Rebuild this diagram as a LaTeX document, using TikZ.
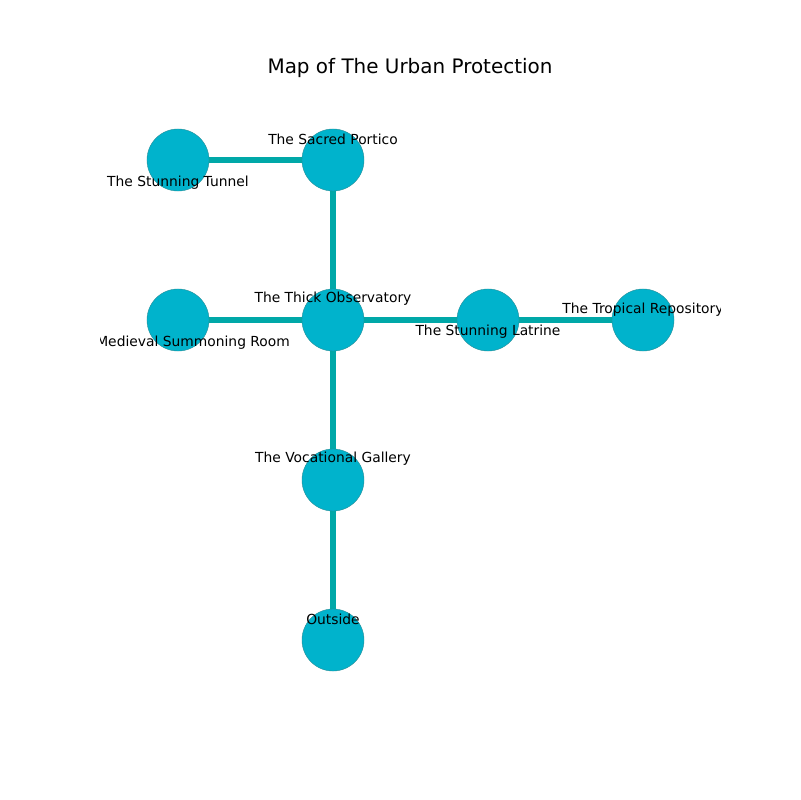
\documentclass[tikz,border=0pt]{standalone}
\usepackage{fontspec}
\setmainfont{DejaVu Sans}
\definecolor{nodefill}{RGB}{0,179,204}
\definecolor{nodeedge}{RGB}{40,140,150}
\definecolor{edgecol}{RGB}{0,168,168}
\begin{document}
\begin{tikzpicture}[x=0.01in,y=-0.01in,
  place/.style={circle,fill=nodefill,draw=nodeedge,line width=0.3pt,minimum size=0.62in,inner sep=0pt},
  link/.style={draw=edgecol,line width=3.8pt},
  lbl/.style={font=\fontsize{10}{12}\selectfont,inner sep=0pt,anchor=center}]
\useasboundingbox (0,0) rectangle (800,800);
\node[font=\fontsize{14.4}{16}\selectfont] (title) at (410,68) {Map of The Urban Protection};
\begin{scope}
\clip (100,96) rectangle (720,712);
\coordinate (tunnel) at (178,160);
\coordinate (portico) at (333,160);
\coordinate (obs) at (333,320);
\coordinate (medieval) at (178,320);
\coordinate (latrine) at (488,320);
\coordinate (tropical) at (643,320);
\coordinate (gallery) at (333,480);
\coordinate (outside) at (333,640);
\draw[link] (tunnel) -- (portico);
\draw[link] (portico) -- (obs);
\draw[link] (medieval) -- (obs);
\draw[link] (obs) -- (latrine);
\draw[link] (latrine) -- (tropical);
\draw[link] (obs) -- (gallery);
\draw[link] (gallery) -- (outside);
\node[place] (ntunnel) at (tunnel) {};
\node[place] (nportico) at (portico) {};
\node[place] (nobs) at (obs) {};
\node[place] (nmedieval) at (medieval) {};
\node[place] (nlatrine) at (latrine) {};
\node[place] (ntropical) at (tropical) {};
\node[place] (ngallery) at (gallery) {};
\node[place] (noutside) at (outside) {};
\node[lbl] (ltunnel) at (178,183) {The Stunning Tunnel};
\node[lbl] (lportico) at (333,139) {The Sacred Portico};
\node[lbl] (lobs) at (333,299) {The Thick Observatory};
\node[lbl] (lmedieval) at (178,343) {The Medieval Summoning Room};
\node[lbl] (llatrine) at (488,332) {The Stunning Latrine};
\node[lbl] (ltropical) at (643,310) {The Tropical Repository};
\node[lbl] (lgallery) at (333,459) {The Vocational Gallery};
\node[lbl] (loutside) at (333,619) {Outside};
\end{scope}
\end{tikzpicture}
\end{document}
